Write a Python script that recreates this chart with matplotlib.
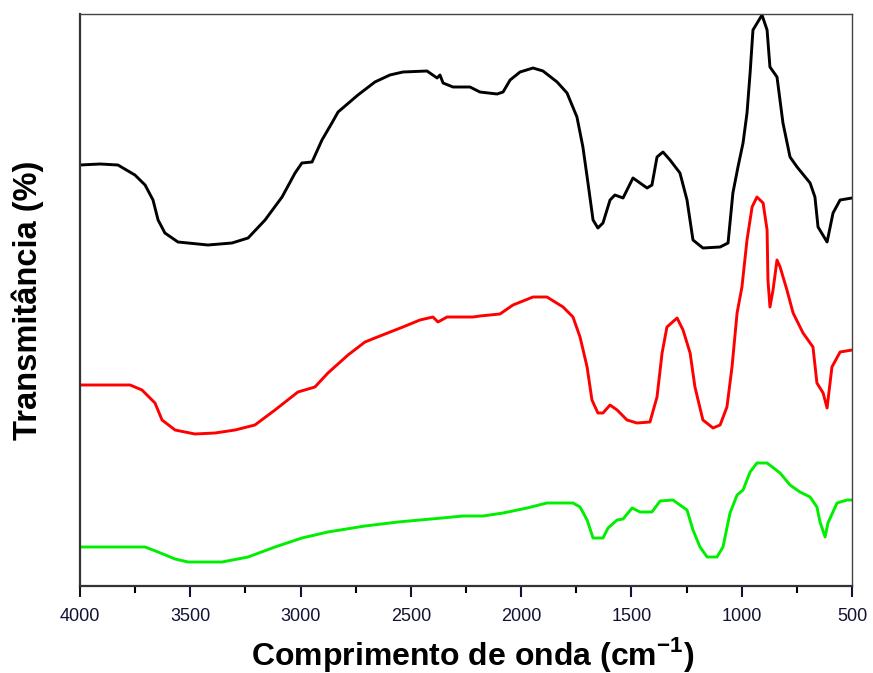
import matplotlib
matplotlib.use("Agg")
import matplotlib.pyplot as plt
from matplotlib.ticker import MultipleLocator

plt.rcParams['font.family'] = ['Liberation Sans', 'DejaVu Sans']
plt.rcParams['mathtext.fontset'] = 'custom'
plt.rcParams['mathtext.rm'] = 'Liberation Sans'
plt.rcParams['mathtext.bf'] = 'Liberation Sans:bold'

# ---- data (wavenumber in cm^-1, transmittance in arbitrary offset units) ----
black_wn = [4000, 3909, 3828, 3751, 3705, 3669, 3646, 3615, 3556, 3420, 3311, 3238, 3161,
            3084, 3025, 2994, 2948, 2903, 2858, 2830, 2740, 2663, 2595, 2536, 2427, 2381,
            2368, 2354, 2309, 2232, 2187, 2109, 2082, 2050, 2005, 1946, 1901, 1837, 1792,
            1747, 1720, 1697, 1674, 1652, 1629, 1597, 1575, 1538, 1493, 1429, 1407, 1384,
            1357, 1325, 1280, 1248, 1221, 1176, 1098, 1062, 1040, 1017, 994, 976, 962, 949,
            908, 885, 872, 840, 813, 781, 749, 690, 668, 654, 613, 586, 554, 500]
black_t = [421, 422, 421, 411, 401, 386, 366, 353, 344, 341, 343, 348, 366,
           389, 413, 423, 424, 446, 463, 474, 491, 504, 511, 514, 515, 508,
           511, 503, 499, 499, 494, 492, 494, 506, 514, 518, 515, 504, 493,
           469, 439, 403, 366, 358, 363, 386, 391, 388, 408, 398, 401, 429,
           434, 426, 413, 386, 346, 338, 339, 343, 393, 419, 443, 473, 513, 556,
           571, 556, 519, 509, 463, 429, 419, 403, 389, 359, 344, 373, 386, 388]

red_wn = [4000, 3773, 3719, 3660, 3628, 3569, 3479, 3388, 3297, 3207, 3116, 3012, 2935,
          2876, 2785, 2708, 2663, 2536, 2459, 2400, 2377, 2336, 2218, 2187, 2096, 2037,
          1946, 1883, 1810, 1765, 1733, 1701, 1679, 1652, 1629, 1597, 1565, 1520, 1475,
          1416, 1384, 1361, 1339, 1293, 1266, 1234, 1212, 1176, 1130, 1098, 1067, 1044,
          1021, 999, 976, 953, 931, 903, 885, 881, 872, 858, 840, 826, 795, 767, 722,
          677, 659, 631, 613, 591, 554, 500]
red_t = [201, 201, 196, 183, 166, 156, 152, 153, 156, 161, 176, 194, 199,
         213, 231, 244, 248, 259, 266, 269, 264, 269, 269, 270, 272, 281,
         289, 289, 279, 269, 249, 219, 186, 173, 173, 181, 176, 166, 163,
         164, 189, 233, 259, 268, 256, 233, 199, 166, 158, 161, 179, 219,
         273, 299, 346, 379, 389, 383, 356, 306, 279, 296, 326, 319, 296, 273, 253,
         239, 203, 193, 178, 219, 234, 236]

green_wn = [4000, 3705, 3646, 3569, 3510, 3356, 3238, 3116, 2994, 2876, 2708, 2558, 2359,
            2264, 2173, 2082, 1973, 1883, 1765, 1733, 1701, 1674, 1629, 1606, 1565, 1538,
            1497, 1461, 1407, 1370, 1312, 1248, 1221, 1189, 1157, 1112, 1085, 1053, 1021,
            994, 962, 931, 885, 826, 781, 736, 690, 659, 645, 622, 609, 568, 523, 500]
green_t = [39, 39, 34, 27, 24, 24, 29, 39, 48, 54, 60, 64, 68,
           70, 70, 73, 78, 83, 83, 79, 66, 48, 48, 58, 66, 67,
           78, 74, 74, 85, 86, 76, 56, 39, 29, 29, 39, 73, 91,
           96, 114, 123, 123, 113, 101, 94, 89, 79, 64, 49, 63, 83, 86, 86]

xticks = [4000, 3500, 3000, 2500, 2000, 1500, 1000, 500]

fig = plt.figure(figsize=(8.73, 6.73), dpi=100)
ax = fig.add_axes([80 / 873, 1 - 586 / 673, (852 - 80) / 873, (586 - 14) / 673])

ax.plot(black_wn, black_t, color='black', lw=2.1)
ax.plot(red_wn, red_t, color='#ff0000', lw=2.1)
ax.plot(green_wn, green_t, color='#00ee00', lw=2.1)

ax.set_xlim(4000, 500)
ax.set_ylim(0, 572)
ax.set_xticks(xticks)
ax.set_xticklabels([str(t) for t in xticks])
ax.xaxis.set_minor_locator(MultipleLocator(250))
ax.set_yticks([])

ax.tick_params(axis='x', which='major', direction='out', length=8, width=1.5,
               labelsize=13, pad=8, colors='#111133')
ax.tick_params(axis='x', which='minor', direction='out', length=5, width=1.5)

for side in ['left', 'bottom']:
    ax.spines[side].set_linewidth(1.6)
    ax.spines[side].set_color('#333333')
for side in ['top', 'right']:
    ax.spines[side].set_linewidth(1.0)
    ax.spines[side].set_color('#444444')

ax.set_xlabel(r'Comprimento de onda (cm$^{\mathbf{-1}}$)', fontsize=23, fontweight='bold',
              labelpad=5)
ax.xaxis.set_label_coords(0.509, -0.085)
ax.set_ylabel('Transmitância (%)', fontsize=23.5, fontweight='bold', labelpad=26)

fig.savefig('out.png', dpi=100)
